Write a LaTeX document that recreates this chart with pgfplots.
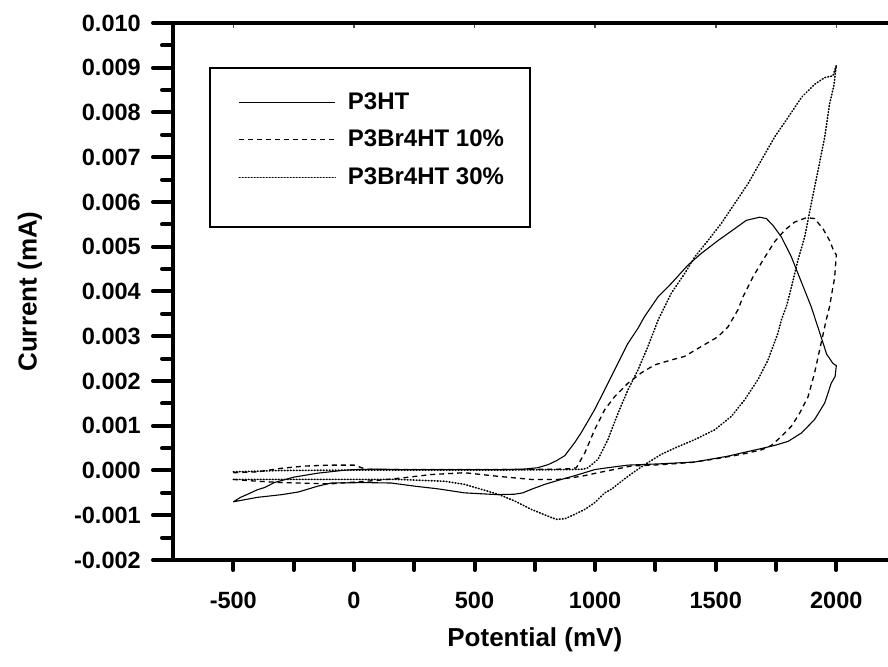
\documentclass[border=0pt]{standalone}
\usepackage{fontspec}
\setmainfont{Liberation Sans}
\usepackage{pgfplots}
\pgfplotsset{compat=1.18}
\begin{document}
\begin{tikzpicture}
\path[use as bounding box] (-86.5pt,-53.5pt) rectangle (357.5pt,280pt);
% main axis
\begin{axis}[
  scale only axis, width=361.8pt, height=268.5pt,
  xmin=-750, xmax=2250, ymin=-0.002, ymax=0.010,
  axis line style={line width=2pt},
  scaled ticks=false,
  xtick={-500,0,500,1000,1500,2000},
  xticklabels={-500,0,500,1000,1500,2000},
  ytick={-0.002,-0.001,0,0.001,0.002,0.003,0.004,0.005,0.006,0.007,0.008,0.009,0.010},
  yticklabels={-0.002,-0.001,0.000,0.001,0.002,0.003,0.004,0.005,0.006,0.007,0.008,0.009,0.010},
  minor y tick num=1,
  tick align=outside, xtick pos=bottom, ytick pos=left,
  major tick length=10pt, minor tick length=5.5pt,
  every tick/.style={line width=2pt, line cap=round, black},
  xtick style={draw=none},
  ticklabel style={font=\fontsize{11.75}{14}\selectfont\bfseries},
  xticklabel style={yshift=-2.6pt},
  yticklabel style={xshift=-2.6pt},
  xlabel={Potential (mV)}, ylabel={Current (mA)},
  label style={font=\fontsize{13}{15.6}\selectfont\bfseries},
  xlabel style={at={(axis description cs:0.5,-0.149)}, anchor=center},
  ylabel style={at={(axis description cs:-0.1976,0.5)}, anchor=center},
  legend style={at={(axis description cs:0.0898,0.8879)}, anchor=north west,
    draw=none, fill=none, inner sep=0pt, row sep=0pt, column sep=6pt,
    nodes={inner sep=0pt, minimum height=18.75pt},
    font=\fontsize{12}{14}\selectfont\bfseries, cells={anchor=west}},
  legend image code/.code={\draw[#1] (0pt,0pt) -- (48pt,0pt);},
]
% P3HT
\addplot[black, line width=0.55pt] coordinates {
(-500,-0.0007) (-470,-0.0006) (-440,-0.00053) (-400,-0.00043) (-370,-0.00038)
(-330,-0.00027) (-250,-0.00015) (-150,-0.00006) (-50,0.00000) (0,0.00002)
(100,0.00003) (200,0.00002) (300,0.00002) (400,0.00002) (500,0.00002)
(600,0.00002) (700,0.00003) (760,0.00006) (805,0.00013) (840,0.00022)
(874,0.00033) (915,0.00062) (943,0.00085) (970,0.0011) (998,0.00136)
(1030,0.0017) (1067,0.0021) (1109,0.00255) (1136,0.00284) (1178,0.00318)
(1205,0.00344) (1261,0.00388) (1316,0.00418) (1385,0.00459) (1440,0.00485)
(1510,0.00514) (1578,0.0054) (1627,0.00559) (1682,0.00566) (1710,0.00563)
(1737,0.00548) (1772,0.00522) (1814,0.00477) (1856,0.0042) (1896,0.00366)
(1930,0.0031) (1960,0.0026) (1985,0.0024) (2000,0.00234)
(1995,0.0021) (1979,0.00195) (1952,0.00151) (1910,0.00114) (1856,0.00084)
(1800,0.00065) (1744,0.00056) (1689,0.00049) (1606,0.00039) (1551,0.00032)
(1413,0.00019) (1274,0.00015) (1136,0.00012) (1050,0.00006) (998,0.00002)
(950,-0.00006) (900,-0.00014) (860,-0.0002) (791,-0.00031) (736,-0.00042)
(700,-0.0005) (666,-0.00053) (597,-0.00054) (459,-0.0005) (349,-0.00041)
(252,-0.00035) (155,-0.00028) (44,-0.00027) (-94,-0.00028) (-150,-0.00035)
(-230,-0.00048) (-300,-0.00054) (-400,-0.0006) (-450,-0.00065) (-500,-0.0007)
};
\addlegendentry{P3HT}
% P3Br4HT 10%
\addplot[black, line width=0.65pt, dash pattern=on 2.5pt off 2pt] coordinates {
(-500,-0.00005) (-400,-0.00003) (-300,0.00005) (-200,0.0001) (-100,0.00012)
(0,0.00012) (50,0.00003) (100,0.00002) (300,0.00002) (500,0.00002)
(700,0.00002) (850,0.00003) (900,0.00004) (922,0.00006) (957,0.00039)
(998,0.00091) (1040,0.00136) (1081,0.00165) (1136,0.00195) (1191,0.00218)
(1247,0.00236) (1316,0.00247) (1371,0.00255) (1440,0.00277) (1510,0.00299)
(1551,0.00321) (1592,0.00359) (1613,0.00388) (1655,0.00433) (1696,0.0047)
(1744,0.00511) (1786,0.00537) (1827,0.00555) (1876,0.00565) (1910,0.00563)
(1945,0.0054) (1972,0.00514) (1990,0.0049) (2000,0.00482)
(1993,0.0043) (1986,0.0041) (1972,0.00366) (1958,0.00336) (1952,0.00321)
(1931,0.0027) (1910,0.00218) (1883,0.00165) (1848,0.00128) (1814,0.00099)
(1772,0.00076) (1731,0.00056) (1689,0.00046) (1606,0.00036) (1500,0.00026)
(1400,0.00018) (1274,0.00013) (1150,0.0001) (1012,-0.00005) (943,-0.00013)
(846,-0.0002) (736,-0.0002) (597,-0.00013) (459,-0.00005) (321,-0.00009)
(210,-0.00016) (100,-0.00022) (-100,-0.0003) (-300,-0.00027) (-400,-0.00024)
(-500,-0.0002)
};
\addlegendentry{P3Br4HT 10\%}
% P3Br4HT 30%
\addplot[black, line width=0.8pt, line cap=round, dash pattern=on 0.4pt off 1.1pt] coordinates {
(-500,-0.00003) (-300,0.0) (0,0.00001) (300,0.00001) (600,0.00001)
(900,0.00002) (950,0.00003) (970,0.00006) (1012,0.00025) (1053,0.00069)
(1095,0.00128) (1136,0.0018) (1178,0.00225) (1219,0.00277) (1261,0.00336)
(1302,0.00381) (1316,0.00396) (1371,0.0044) (1413,0.00477) (1468,0.00514)
(1523,0.00552) (1578,0.00596) (1634,0.00641) (1689,0.00693) (1744,0.00745)
(1800,0.00789) (1856,0.00834) (1910,0.00863) (1952,0.00878) (1986,0.00882)
(2000,0.00905)
(1990,0.0086) (1972,0.00819) (1952,0.00745) (1924,0.0067) (1896,0.00596)
(1869,0.00522) (1841,0.0047) (1814,0.0041) (1795,0.0037) (1772,0.00336)
(1758,0.00307) (1717,0.00247) (1675,0.00203) (1620,0.00158) (1565,0.00121)
(1496,0.00091) (1413,0.00069) (1330,0.0005) (1274,0.00036) (1205,0.00013)
(1136,-0.00013) (1067,-0.00042) (1040,-0.0005) (998,-0.00072) (957,-0.00087)
(915,-0.00098) (874,-0.00108) (840,-0.00109) (818,-0.00105) (736,-0.00087)
(666,-0.00068) (597,-0.00053) (459,-0.00031) (376,-0.00024) (183,-0.0002)
(-94,-0.0002) (-500,-0.0002)
};
\addlegendentry{P3Br4HT 30\%}
\draw[line width=1pt] (axis description cs:0.0511,0.9162) rectangle (axis description cs:0.4934,0.6201);
\end{axis}
% overlay axis for the shorter bottom x ticks
\begin{axis}[
  scale only axis, width=361.8pt, height=268.5pt,
  xmin=-750, xmax=2250, ymin=-0.002, ymax=0.010,
  axis x line*=bottom, axis y line=none,
  axis line style={line width=2pt},
  xtick={-500,0,500,1000,1500,2000}, minor x tick num=1,
  xticklabels={},
  tick align=outside,
  major tick length=5pt, minor tick length=5pt,
  every tick/.style={line width=2pt, line cap=round, black},
]
\end{axis}
% overlay axis for the small top ticks
\begin{axis}[
  scale only axis, width=361.8pt, height=268.5pt,
  xmin=-750, xmax=2250, ymin=-0.002, ymax=0.010,
  axis x line*=top, axis y line=none,
  axis line style={line width=2pt},
  xtick={-500,0,500,1000,1500,2000},
  xticklabels={},
  tick align=inside,
  major tick length=2.5pt,
  every tick/.style={line width=0.8pt, black!70},
]
\end{axis}
\end{tikzpicture}
\end{document}
